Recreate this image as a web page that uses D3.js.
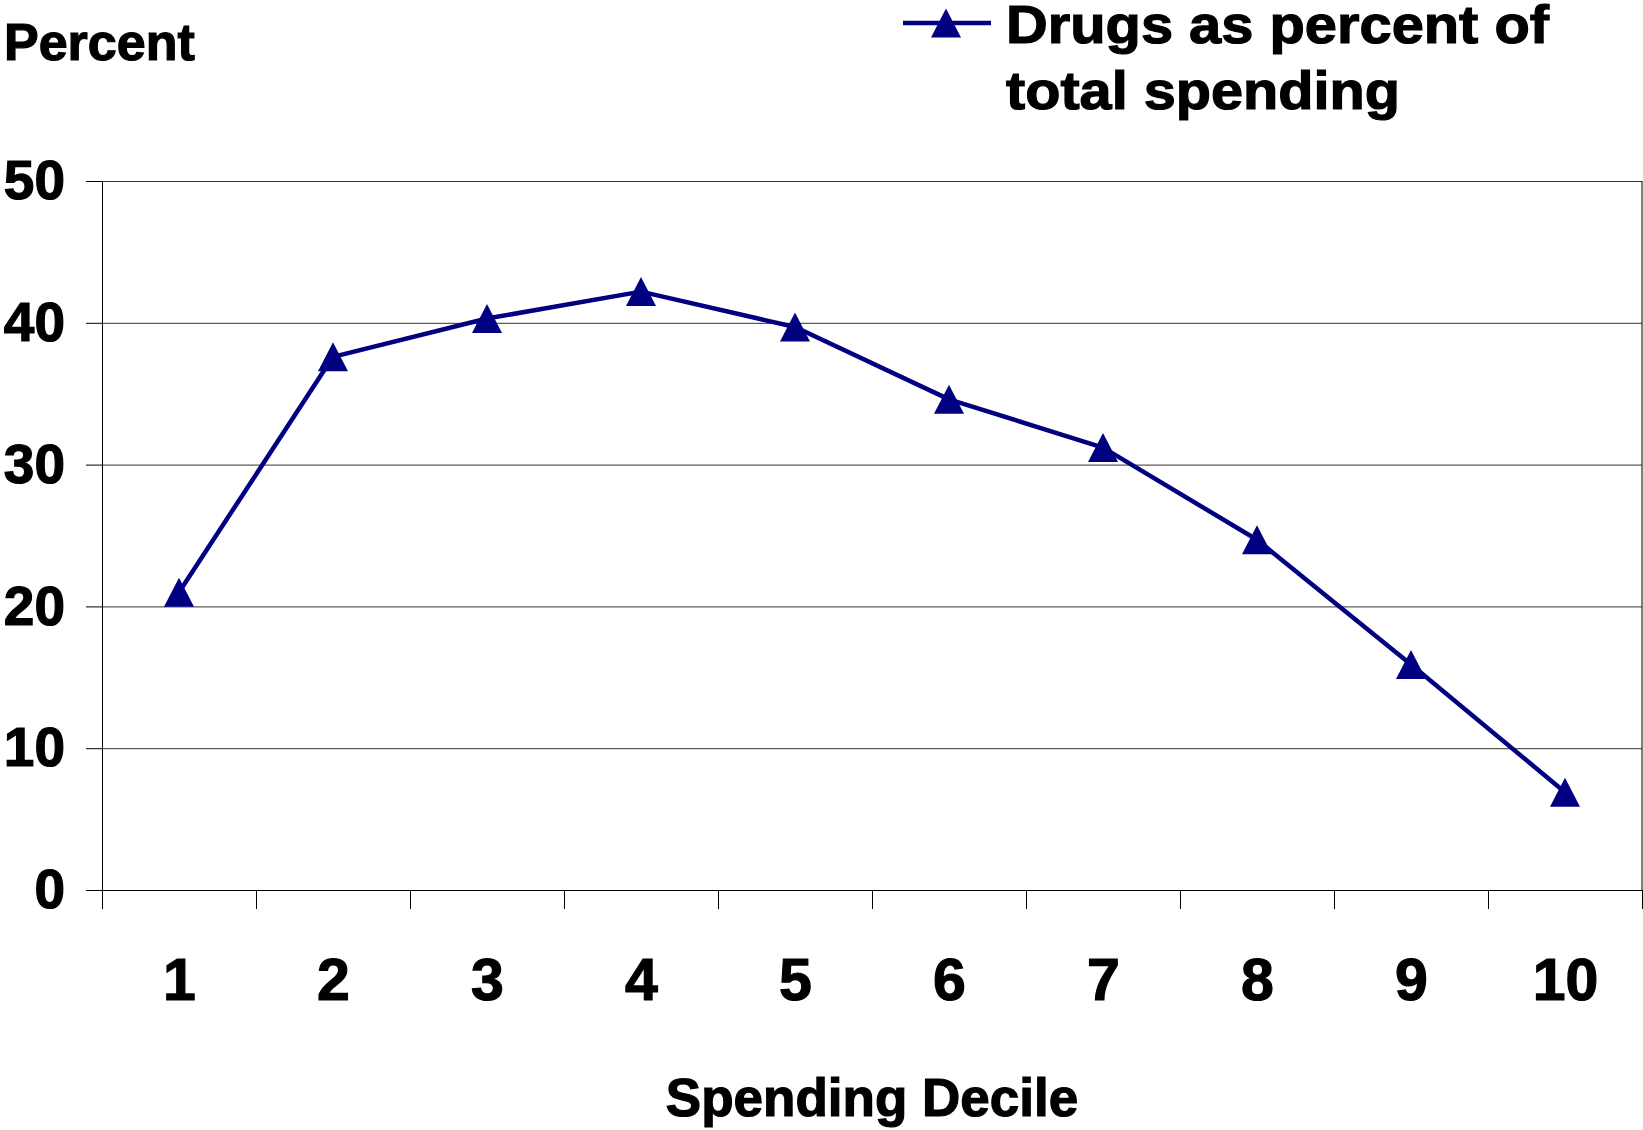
<!DOCTYPE html>
<html>
<head>
<meta charset="utf-8">
<script src="https://cdn.jsdelivr.net/npm/d3@7"></script>
<style>
    body { margin: 0; background: #fff; }
    svg text { font-family: "Liberation Sans", Arial, sans-serif; font-weight: bold; fill: #000; stroke: #000; stroke-width: 1.2px; }
    .axis path, .axis line { stroke: #000; }
    .grid line { stroke: #333; }
</style>
</head>
<body>
<div id="chart"></div>
<script>
// data
var deciles = ["1", "2", "3", "4", "5", "6", "7", "8", "9", "10"];
var drugShare = [21.0, 37.6, 40.3, 42.2, 39.7, 34.6, 31.2, 24.7, 15.9, 6.9];
var yTicks = [0, 10, 20, 30, 40, 50];
var legendLines = ["Drugs as percent of", "total spending"];

var navy = "#000080";
var margin = { top: 181, right: 1, bottom: 240, left: 102 };
var width = 1643 - margin.left - margin.right;
var height = 1130 - margin.top - margin.bottom;

var svg = d3.select("#chart").append("svg")
    .attr("width", 1643)
    .attr("height", 1130);

var g = svg.append("g")
    .attr("transform", "translate(" + margin.left + "," + margin.top + ")");

// Scales - deciles sit in the middle of each slot, ticks between them
var x = d3.scaleLinear()
    .domain([0.5, deciles.length + 0.5])
    .range([0, width]);

var y = d3.scaleLinear()
    .domain([0, 50])
    .range([height, 0]);

// triangle marker, box centred like the spreadsheet one
function triangle(w, h) {
    return "M0," + (-h / 2) + "L" + (w / 2) + "," + (h / 2) + "L" + (-w / 2) + "," + (h / 2) + "Z";
}

// gridlines
g.append("g")
    .attr("class", "grid")
    .call(d3.axisLeft(y).tickValues(yTicks).tickSize(-width).tickFormat(""))
    .call(function(s) { s.select(".domain").remove(); });

// right border of the plot
g.append("line")
    .attr("x1", width).attr("x2", width)
    .attr("y1", 0).attr("y2", height)
    .attr("stroke", "#000");

// y axis
g.append("g")
    .attr("class", "axis")
    .call(d3.axisLeft(y).tickValues(yTicks).tickSize(16).tickSizeOuter(0).tickPadding(21))
    .selectAll("text")
    .attr("font-size", 55)
    .attr("stroke-width", 1.8);

// x axis: tick marks between deciles
g.append("g")
    .attr("class", "axis")
    .attr("transform", "translate(0," + height + ")")
    .call(d3.axisBottom(x)
        .tickValues(d3.range(0.5, deciles.length + 1, 1))
        .tickSize(19).tickSizeOuter(0).tickFormat(""));

// x labels
g.append("g")
    .attr("transform", "translate(0," + height + ")")
    .call(d3.axisBottom(x)
        .tickValues(deciles.map(Number))
        .tickSize(0).tickPadding(68))
    .call(function(s) { s.select(".domain").remove(); })
    .selectAll("text")
    .attr("font-size", 59)
    .attr("stroke-width", 2.2);

// axis titles
svg.append("text")
    .attr("x", 4)
    .attr("y", 60)
    .attr("font-size", 52)
    .text("Percent");

svg.append("text")
    .attr("x", margin.left + width / 2)
    .attr("y", 1116)
    .attr("text-anchor", "middle")
    .attr("font-size", 53)
    .text("Spending Decile");

// the line
var line = d3.line()
    .x(function(d, i) { return x(i + 1); })
    .y(function(d) { return y(d); });

g.append("path")
    .datum(drugShare)
    .attr("fill", "none")
    .attr("stroke", navy)
    .attr("stroke-width", 4.5)
    .attr("stroke-linejoin", "round")
    .attr("d", line);

g.selectAll(".marker")
    .data(drugShare)
    .enter().append("path")
    .attr("class", "marker")
    .attr("transform", function(d, i) { return "translate(" + x(i + 1) + "," + y(d) + ")"; })
    .attr("d", triangle(30, 29))
    .attr("fill", navy);

// legend
var legend = svg.append("g");

legend.append("line")
    .attr("x1", 903).attr("x2", 991)
    .attr("y1", 23).attr("y2", 23)
    .attr("stroke", navy)
    .attr("stroke-width", 4.5);

legend.append("path")
    .attr("transform", "translate(946,23)")
    .attr("d", triangle(30, 29))
    .attr("fill", navy);

// legend text is drawn wide and heavy in the original
var legendWidths = [543, 394];
legend.selectAll(".legend-text")
    .data(legendLines)
    .enter().append("text")
    .attr("class", "legend-text")
    .attr("x", 1006)
    .attr("y", function(d, i) { return 43 + i * 66; })
    .attr("font-size", 54)
    .attr("stroke-width", 2)
    .attr("textLength", function(d, i) { return legendWidths[i]; })
    .attr("lengthAdjust", "spacingAndGlyphs")
    .text(function(d) { return d; });
</script>
</body>
</html>
